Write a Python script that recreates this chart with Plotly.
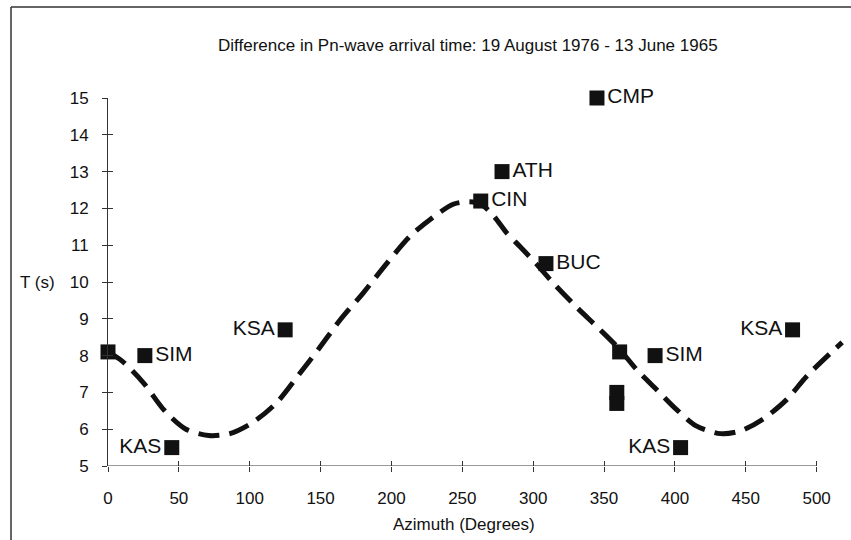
import plotly.graph_objects as go

# ---- data ----
stations = ["", "SIM", "KAS", "KSA", "CIN", "ATH", "CMP", "BUC", "", "", "", "SIM", "KAS", "KSA"]
azimuth = [0, 26, 45, 125, 263, 278, 345, 309, 361, 359, 359, 386, 404, 483]
delay = [8.1, 8.0, 5.5, 8.7, 12.2, 13.0, 15.0, 10.5, 8.1, 7.0, 6.7, 8.0, 5.5, 8.7]
label_side = ["middle right", "middle right", "middle left", "middle left", "middle right",
              "middle right", "middle right", "middle right", "middle right", "middle right",
              "middle right", "middle right", "middle left", "middle left"]

curve_az = [0, 10, 25, 40, 55, 71, 86, 102, 119, 135, 149, 164, 180, 197, 213, 230,
            244, 255, 263, 272, 281, 291, 302, 314, 330, 347, 361, 373, 387, 401, 415,
            432, 446, 462, 479, 493, 518]
curve_t = [8.1, 7.85, 7.26, 6.5, 6.0, 5.83, 5.88, 6.18, 6.72, 7.5, 8.2, 8.98, 9.7, 10.52,
           11.24, 11.78, 12.12, 12.18, 12.12, 11.8, 11.35, 10.95, 10.5, 9.98, 9.34, 8.71,
           8.17, 7.62, 7.08, 6.54, 6.09, 5.88, 5.95, 6.27, 6.81, 7.44, 8.36]

x_ticks = [0, 50, 100, 150, 200, 250, 300, 350, 400, 450, 500]
y_ticks = [5, 6, 7, 8, 9, 10, 11, 12, 13, 14, 15]

title_text = "Difference in Pn-wave arrival time: 19 August 1976 - 13 June 1965"
x_title = "Azimuth (Degrees)"
y_title = "T (s)"

FONT = "Liberation Sans, Arial, Helvetica, sans-serif"
INK = "#111111"
AX = "#333333"

fig = go.Figure()

fig.add_trace(go.Scatter(
    x=curve_az, y=curve_t, mode="lines",
    line=dict(color=INK, width=5, dash="21px,10px", shape="spline", smoothing=0.8),
    hoverinfo="skip", showlegend=False,
))

fig.add_trace(go.Scatter(
    x=azimuth, y=delay, mode="markers+text",
    marker=dict(symbol="square", size=15, color=INK),
    text=stations, textposition=label_side,
    textfont=dict(family=FONT, size=21, color=INK),
    cliponaxis=False, showlegend=False,
))

# dummy trace for overlay axes (inside tick marks)
fig.add_trace(go.Scatter(x=[], y=[], xaxis="x2", yaxis="y2", showlegend=False))

fig.update_layout(
    width=851, height=540,
    margin=dict(l=108, r=6, t=98, b=74),
    paper_bgcolor="white", plot_bgcolor="white",
    font=dict(family=FONT, color=INK),
    xaxis=dict(range=[0, 520], tickvals=x_ticks, ticks="outside", ticklen=5,
               tickwidth=1, tickcolor=AX, showline=False, showgrid=False,
               zeroline=False, tickfont=dict(size=17, color=INK),
               ticklabelstandoff=12),
    yaxis=dict(range=[5, 15], tickvals=y_ticks, ticks="outside", ticklen=5,
               tickwidth=1, tickcolor=AX, showline=True, linecolor=AX, linewidth=1,
               showgrid=False, zeroline=False, tickfont=dict(size=17, color=INK),
               ticklabelstandoff=10),
    xaxis2=dict(range=[0, 520], tickvals=x_ticks, ticks="inside", ticklen=5,
                tickwidth=1, tickcolor=AX, showticklabels=False, showgrid=False,
                zeroline=False, showline=False, overlaying="x", anchor="y2"),
    yaxis2=dict(range=[5, 15], tickvals=y_ticks, ticks="inside", ticklen=5,
                tickwidth=1, tickcolor=AX, showticklabels=False, showgrid=False,
                zeroline=False, showline=False, overlaying="y", anchor="x2", side="left"),
    shapes=[
        # x axis line from 0 to 500
        dict(type="line", xref="x", yref="y", x0=x_ticks[0], x1=x_ticks[-1], y0=5, y1=5,
             line=dict(color=AX, width=1)),
        # frame: top and left edges
        dict(type="line", xref="paper", yref="paper", x0=-0.1316, x1=1.01, y0=1.247, y1=1.247,
             line=dict(color=AX, width=1.5)),
        dict(type="line", xref="paper", yref="paper", x0=-0.1316, x1=-0.1316, y0=1.247, y1=-0.21,
             line=dict(color=AX, width=1.5)),
    ],
    annotations=[
        dict(text=title_text, xref="paper", yref="paper", x=0.4889, y=1.143,
             showarrow=False, font=dict(size=17, color=INK), xanchor="center", yanchor="middle"),
        dict(text=x_title, xref="paper", yref="paper", x=0.4829, y=-0.16,
             showarrow=False, font=dict(size=17, color=INK), xanchor="center", yanchor="middle"),
        dict(text=y_title, xref="paper", yref="y", x=-0.095, y=10,
             showarrow=False, font=dict(size=17, color=INK), xanchor="center", yanchor="middle"),
    ],
)

fig.write_html("out.html", config={"displayModeBar": False},
               post_script="document.body.style.margin='0px';")
